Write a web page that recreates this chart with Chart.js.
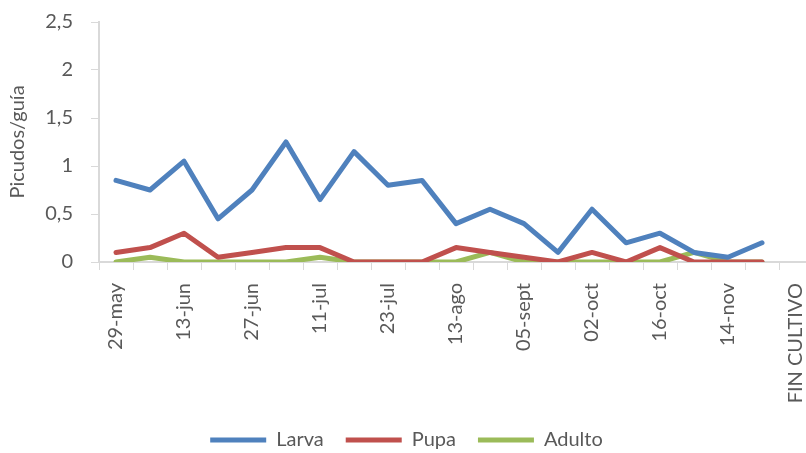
<!DOCTYPE html>
<html>
<head>
<meta charset="utf-8">
<script src="https://cdn.jsdelivr.net/npm/chart.js@4.4.0/dist/chart.umd.min.js"></script>
<style>
  html, body { margin: 0; padding: 0; background: #fff; overflow: hidden; }
  #wrap { width: 806px; height: 453px; overflow: hidden; }
  #inner { width: 813px; height: 462px; position: relative; }
</style>
</head>
<body>
<div id="wrap"><div id="inner"><canvas id="chart"></canvas></div></div>
<script>
// only every second date is printed on the axis
const fechas = ['29-may', '', '13-jun', '', '27-jun', '', '11-jul', '', '23-jul', '', '13-ago', '',
    '05-sept', '', '02-oct', '', '16-oct', '', '14-nov', '', 'FIN CULTIVO'];

const larva = [0.85, 0.75, 1.05, 0.45, 0.75, 1.25, 0.65, 1.15, 0.8, 0.85, 0.4, 0.55, 0.4, 0.1, 0.55, 0.2, 0.3, 0.1, 0.05, 0.2];
const pupa = [0.1, 0.15, 0.3, 0.05, 0.1, 0.15, 0.15, 0, 0, 0, 0.15, 0.1, 0.05, 0, 0.1, 0, 0.15, 0, 0, 0];
const adulto = [0, 0.05, 0, 0, 0, 0, 0.05, 0, 0, 0, 0, 0.1, 0, 0, 0, 0, 0, 0.1, 0, 0];

const gris = '#595959';
const linea = '#d9d9d9';
const fuente = 'Lato, "Open Sans", sans-serif';

function serie(label, data, color) {
    return {
        label: label,
        data: data,
        borderColor: color,
        backgroundColor: color,
        borderWidth: 5,
        borderCapStyle: 'round',
        borderJoinStyle: 'round',
        pointRadius: 0,
        tension: 0
    };
}

new Chart(document.getElementById('chart'), {
    type: 'line',
    data: {
        labels: fechas,
        datasets: [
            serie('Larva', larva, '#4f81bd'),
            serie('Pupa', pupa, '#c0504d'),
            serie('Adulto', adulto, '#9bbb59')
        ]
    },
    options: {
        responsive: true,
        maintainAspectRatio: false,
        animation: false,
        layout: { padding: { top: 22, right: 0, left: 0, bottom: 2 } },
        scales: {
            x: {
                offset: true,
                grid: {
                    offset: true,
                    drawOnChartArea: false,
                    drawTicks: true,
                    tickLength: 8,
                    color: linea
                },
                border: { color: linea, width: 2 },
                ticks: {
                    autoSkip: false,
                    maxRotation: 90,
                    minRotation: 90,
                    padding: 13,
                    color: gris,
                    font: { family: fuente, size: 20 }
                },
                afterFit: (scale) => {
                    scale.height = 146;
                    scale.paddingLeft = 0;
                    scale.paddingRight = 0;
                }
            },
            y: {
                min: 0,
                max: 2.5,
                ticks: {
                    stepSize: 0.5,
                    padding: 18,
                    color: gris,
                    font: { family: fuente, size: 20 },
                    callback: (v) => String(v).replace('.', ',')
                },
                grid: {
                    drawOnChartArea: false,
                    drawTicks: true,
                    tickLength: 8,
                    color: linea
                },
                border: { color: linea, width: 2 },
                title: {
                    display: true,
                    text: 'Picudos/guía',
                    color: gris,
                    font: { family: fuente, size: 20 },
                    padding: { top: 6, bottom: 0 }
                },
                afterFit: (scale) => {
                    scale.width = 99;
                    // let layout.padding decide where the plot starts
                    scale.paddingTop = 0;
                    scale.paddingBottom = 0;
                }
            }
        },
        plugins: {
            tooltip: { enabled: false },
            legend: {
                position: 'bottom',
                labels: {
                    usePointStyle: true,
                    pointStyle: 'line',
                    pointStyleWidth: 56,
                    padding: 22,
                    color: gris,
                    font: { family: fuente, size: 20 }
                }
            }
        }
    }
});
</script>
</body>
</html>
